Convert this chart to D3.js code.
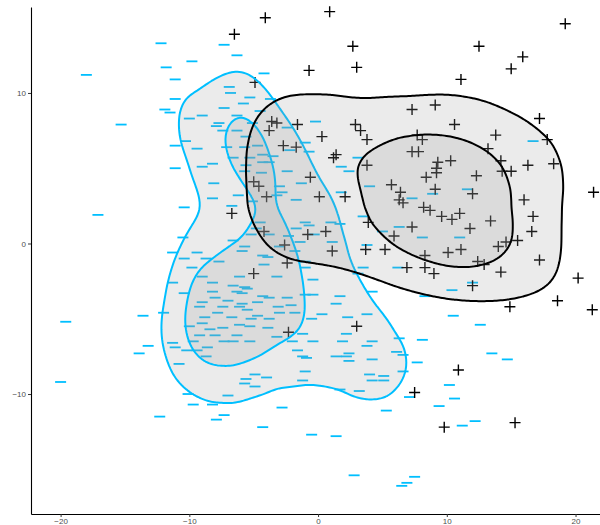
<!DOCTYPE html>
<html>
<head>
<meta charset="utf-8">
<script src="https://cdn.jsdelivr.net/npm/d3@7"></script>
<style>
  body { margin: 0; background: #fff; }
  .axis text { font-family: "Liberation Sans", Arial, sans-serif; font-size: 8px; fill: #4d4d4d; }
</style>
</head>
<body>
<div id="chart"></div>
<script>
// "+" group (black)
const plusPoints = [
  [-4.1, 15.0], [-6.5, 13.9], [0.9, 15.4], [2.7, 13.1], [3.0, 11.7], [-0.7, 11.5], [-4.9, 10.7],
  [19.2, 14.6], [12.5, 13.1], [15.9, 12.4], [15.0, 11.6], [11.1, 10.9],
  [-3.6, 8.1], [-3.2, 8.0], [-1.6, 7.9], [-3.8, 7.5], [-2.7, 6.5], [-1.7, 6.4],
  [7.3, 8.9], [9.1, 9.2], [2.9, 7.9], [3.3, 7.5], [3.8, 6.9], [0.3, 7.1], [7.7, 7.2], [8.1, 6.9],
  [1.4, 5.9], [1.2, 5.7], [7.3, 6.1], [7.8, 6.1], [9.3, 5.4], [9.2, 5.0], [9.2, 4.7], [10.3, 5.5],
  [3.8, 5.2], [17.2, 8.3], [10.6, 7.9], [13.8, 7.2], [17.8, 6.9], [13.2, 6.3], [14.2, 5.5],
  [16.3, 5.2], [18.3, 5.3], [14.3, 4.8], [15.0, 4.8], [12.3, 4.5],
  [-5.0, 4.1], [-4.6, 3.8], [-4.0, 3.1], [-6.7, 2.0], [-4.2, 0.8], [-0.8, 0.6], [-2.6, -0.1],
  [-2.4, -1.3], [-5.0, -2.0], [-2.3, -5.9], [-0.6, 4.4], [0.1, 3.1], [2.1, 3.1], [5.7, 3.9],
  [8.4, 4.4], [6.4, 3.4], [6.3, 2.9], [6.6, 2.7], [9.1, 3.6], [8.2, 2.4], [8.7, 2.2], [9.6, 1.8],
  [10.4, 1.6], [3.9, 1.4], [7.3, 1.1], [0.6, 0.8], [5.9, 0.5], [1.1, -0.5], [3.7, -0.4],
  [5.2, -0.4], [8.3, -0.8], [10.1, -0.6], [6.9, -1.6], [8.3, -1.6], [9.0, -2.0], [3.0, -5.5],
  [12.0, 3.3], [21.4, 3.4], [16.0, 2.9], [11.0, 2.0], [16.7, 1.8], [13.4, 1.5], [11.8, 1.0],
  [16.6, 0.8], [15.5, 0.2], [14.6, 0.1], [14.0, -0.2], [11.1, -0.4], [17.2, -1.1], [12.4, -1.2],
  [12.9, -1.4], [14.2, -1.9], [20.2, -2.3], [12.0, -2.8], [18.6, -3.8], [14.9, -4.2], [21.3, -4.4],
  [7.5, -9.9], [9.8, -12.2], [10.9, -8.4], [15.3, -11.9]
];

// "-" group (cyan)
const minusPoints = [
  [-12.2, 13.3], [-11.8, 11.7], [-18.0, 11.2], [-11.1, 10.9], [-11.1, 9.6], [-11.9, 8.9], [-11.5, 8.7],
  [-15.3, 7.9], [-11.1, 6.5], [-11.1, 5.0], [-7.3, 13.2], [-6.3, 12.5], [-9.8, 12.1], [-4.2, 11.3],
  [-6.9, 10.4], [-6.8, 10.0], [-5.3, 9.7], [-3.7, 9.6], [-7.3, 9.0], [-5.8, 9.3], [-4.5, 8.8],
  [-9.0, 8.5], [-6.3, 8.5], [-10.0, 8.3], [-7.7, 8.0], [-7.9, 7.8], [-5.1, 8.0], [-2.4, 7.7],
  [-6.3, 7.5], [-7.4, 7.5], [-5.6, 7.1], [-10.3, 6.8], [-9.4, 6.3], [-7.1, 6.4], [-5.7, 6.4],
  [-4.7, 6.5], [-1.0, 6.7], [-2.2, 6.2], [-0.7, 6.1], [-6.6, 5.7], [-5.3, 5.7], [-4.3, 5.9],
  [-3.5, 5.8], [-8.2, 5.3], [-9.0, 5.1], [-5.6, 5.2], [-4.3, 5.4], [-3.8, 5.4], [-5.7, 4.8],
  [-2.4, 4.8], [-4.4, 4.7], [-0.2, 8.1], [3.1, 5.7], [1.8, 5.1], [2.4, 4.8], [16.7, 6.8],
  [-17.1, 1.9], [-19.6, -5.2], [-13.6, -4.8], [-12.0, -4.6], [-11.3, -0.6], [-11.3, -2.6],
  [-8.1, 4.0], [-6.2, 3.2], [-8.2, 3.0], [-10.4, 2.4], [-5.1, 2.8], [-6.7, 2.5], [-3.0, 3.8],
  [-2.8, 3.4], [-3.2, 3.2], [-1.3, 4.0], [-1.7, 2.9], [-4.5, 1.4], [-4.8, 1.0], [-5.2, 0.6],
  [-1.0, 1.4], [-0.7, 1.2], [-1.7, 1.0], [-3.8, 0.6], [-2.3, 0.5], [-10.5, 0.4], [-6.6, 0.2],
  [-5.7, -0.2], [-5.9, -0.5], [-9.4, -0.6], [-3.0, -0.2], [-1.8, -0.5], [-1.4, 0.1], [-4.3, -0.8],
  [-3.9, -0.9], [-8.7, -1.0], [-10.4, -1.0], [-9.8, -1.6], [-7.7, -1.2], [-1.0, -1.2], [-1.0, -1.6],
  [-4.2, -1.4], [-3.2, -2.2], [-6.1, -2.2], [-9.0, -2.2], [-8.2, -2.6], [-6.6, -2.8], [-5.7, -2.9],
  [-5.5, -3.0], [-6.3, -3.2], [-8.2, -3.2], [-10.4, -3.3], [-5.9, -3.3], [-4.3, -3.5], [-3.8, -3.6],
  [-1.0, -3.4], [-2.4, -3.6], [-8.0, -3.6], [-9.0, -3.9], [-7.0, -3.8], [-4.7, -3.9], [-5.9, -4.0],
  [-7.4, -4.2], [-6.1, -4.2], [-2.1, -4.1], [-3.1, -4.2], [-9.2, -4.2], [-5.5, -4.4], [-7.8, -4.6],
  [-4.7, -4.8], [-3.0, -4.6], [-1.8, -4.6], [-6.7, -4.9], [-8.8, -4.9], [-5.2, -5.0], [-3.8, -5.0],
  [-10.0, -5.5], [-9.0, -5.3], [-6.1, -5.4], [-5.3, -5.5], [-7.4, -5.6], [-8.4, -5.7], [-3.9, -5.6],
  [-9.2, -6.1], [-8.0, -6.1], [-6.3, -6.1], [-3.2, -6.2], [-7.3, -6.5], [-6.6, -6.5], [-5.3, -6.5],
  [-9.7, -6.5], [-1.2, -6.0], [-11.3, -6.6],
  [4.0, 3.8], [1.8, 3.4], [7.3, 3.0], [8.9, 3.3], [3.5, 1.8], [1.0, 1.4], [1.7, 1.3], [5.0, 0.8],
  [6.3, 1.1], [-0.3, 0.6], [8.1, 0.4], [1.1, 0.1], [3.8, -0.1], [3.5, -1.6], [6.2, -1.6], [3.1, -2.0],
  [-0.4, -2.4], [4.2, -3.2], [8.3, -3.5], [1.7, -3.5], [1.4, -4.0], [0.3, -4.7], [-0.5, -5.0],
  [3.8, -4.7], [2.3, -4.9], [10.5, -4.8], [2.2, -6.0], [1.9, -6.5], [4.2, -6.5], [6.3, -6.3],
  [8.1, -6.4], [-0.4, -3.4],
  [11.6, 3.6], [11.0, 0.4], [12.0, -2.6], [10.4, -3.1], [12.6, -5.4],
  [-13.2, -6.8], [-13.9, -7.3], [-20.0, -9.2], [-12.3, -11.5],
  [-11.1, -6.9], [-10.2, -7.1], [-9.4, -7.1], [-8.6, -6.9], [-8.7, -7.5], [-10.8, -8.0],
  [-4.9, -8.7], [-5.6, -9.0], [-4.0, -8.9], [-5.7, -9.3], [-4.9, -9.5], [-7.0, -10.1],
  [-10.1, -10.0], [-9.7, -10.7], [-8.2, -10.7], [-7.3, -11.4], [-7.9, -11.7], [-4.3, -12.2],
  [-2.8, -10.9], [-2.0, -6.5], [-1.6, -7.1], [-1.2, -7.5], [-0.9, -7.6], [-1.0, -8.5], [-1.2, -9.1],
  [-0.4, -6.5], [-0.5, -12.7],
  [1.4, -7.5], [2.2, -7.5], [2.4, -7.3], [2.4, -7.8], [3.8, -6.8], [4.2, -7.7], [6.1, -7.2],
  [6.6, -7.4], [6.6, -8.5], [4.0, -8.7], [4.2, -9.1], [5.1, -8.8], [5.1, -9.1], [7.7, -7.9],
  [1.7, -9.7], [3.2, -9.8], [7.1, -10.2], [5.3, -11.1], [10.2, -9.4], [9.4, -10.8], [10.6, -10.3],
  [1.4, -12.8], [2.8, -15.4], [7.5, -15.5], [6.9, -15.9], [6.5, -16.1],
  [13.5, -7.3], [14.7, -7.7], [11.2, -12.1], [12.2, -11.8]
];

const xTicks = [-20, -10, 0, 10, 20];
const yTicks = [-10, 0, 10];

const width = 600, height = 525;

const svg = d3.select("#chart")
  .append("svg")
  .attr("width", width)
  .attr("height", height);

const x = d3.scaleLinear().domain([-22.3, 21.9]).range([31, 600]);
const y = d3.scaleLinear().domain([-17.97, 15.71]).range([514, 7]);

// 2d density with separate x / y kernel widths (y squeezed, then stretched back)
function densityContours(points, bwX, bwY, levels) {
  const k = bwX / bwY;
  const density = d3.contourDensity()
    .x(d => x(d[0]))
    .y(d => y(d[1]) * k)
    .size([width, Math.ceil(height * k)])
    .cellSize(2)
    .bandwidth(bwX);
  const all = density.thresholds(80)(points);
  const peak = d3.max(all, c => c.value);
  const shapes = density.thresholds(levels.map(f => f * peak))(points);
  const unsquash = d3.geoTransform({
    point: function (px, py) { this.stream.point(px, py / k); }
  });
  return shapes.map(s => d3.geoPath(unsquash)(s));
}

const groups = [
  { points: minusPoints, color: "#00bfff", bwX: 21, bwY: 35, levels: [0.33, 0.62] },
  { points: plusPoints, color: "#000000", bwX: 40, bwY: 31, levels: [0.33, 0.68] }
];

// points
svg.append("g")
  .selectAll("path")
  .data(minusPoints)
  .enter()
  .append("path")
  .attr("transform", d => `translate(${x(d[0])},${y(d[1])})`)
  .attr("d", "M-5.5,0H5.5")
  .attr("stroke", "#00bfff")
  .attr("stroke-width", 1.8);

svg.append("g")
  .selectAll("path")
  .data(plusPoints)
  .enter()
  .append("path")
  .attr("transform", d => `translate(${x(d[0])},${y(d[1])})`)
  .attr("d", "M-5.5,0H5.5M0,-5.5V5.5")
  .attr("stroke", "#000")
  .attr("stroke-width", 1.4);

// contour polygons drawn over the points
groups.forEach(g => {
  svg.append("g")
    .selectAll("path")
    .data(densityContours(g.points, g.bwX, g.bwY, g.levels))
    .enter()
    .append("path")
    .attr("d", d => d)
    .attr("fill", "#9b9b9b")
    .attr("fill-opacity", 0.2)
    .attr("stroke", g.color)
    .attr("stroke-width", 2)
    .attr("stroke-linejoin", "round");
});

// axes
const xAxis = svg.append("g")
  .attr("class", "axis")
  .attr("transform", "translate(0,514)")
  .call(d3.axisBottom(x).tickValues(xTicks).tickSize(3).tickSizeOuter(0).tickPadding(1));

const yAxis = svg.append("g")
  .attr("class", "axis")
  .attr("transform", "translate(31,0)")
  .call(d3.axisLeft(y).tickValues(yTicks).tickSize(3).tickSizeOuter(0).tickPadding(2));

[xAxis, yAxis].forEach(a => {
  a.select(".domain").attr("stroke", "#000").attr("stroke-width", 1.1);
  a.selectAll(".tick line").attr("stroke", "#333");
});
</script>
</body>
</html>
